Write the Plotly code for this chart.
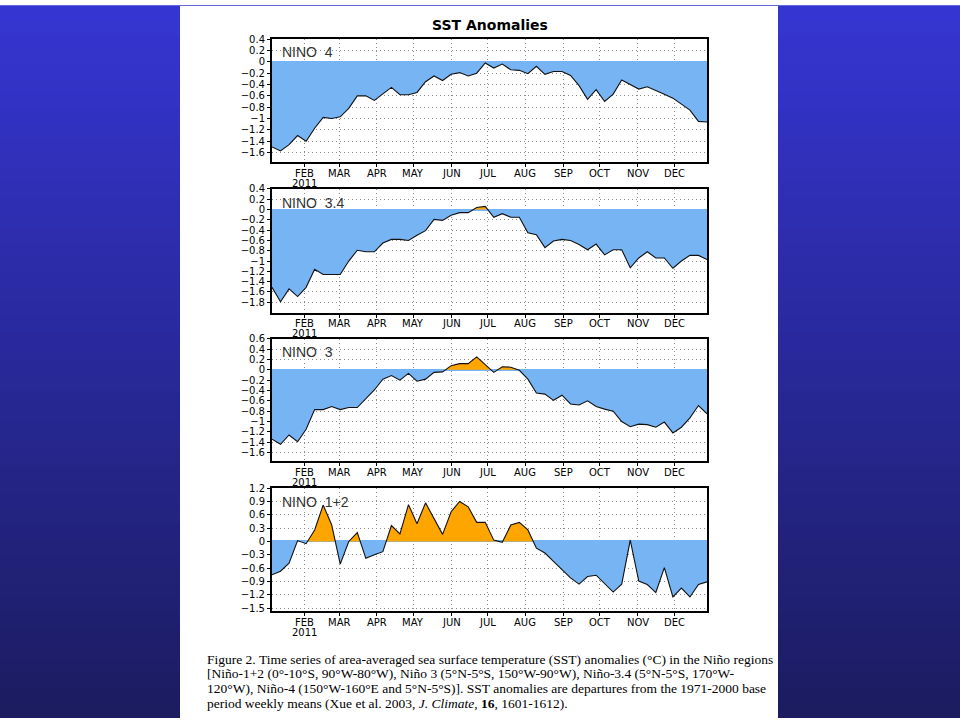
import numpy as np
import pandas as pd
import plotly.graph_objects as go

# ---------------- data ----------------
weeks = pd.date_range("2011-01-05", periods=52, freq="7D")

nino4 = [-1.50, -1.57, -1.46, -1.30, -1.40, -1.17, -0.98, -1.00, -0.97, -0.82,
         -0.60, -0.60, -0.68, -0.57, -0.45, -0.58, -0.58, -0.54, -0.35, -0.25,
         -0.33, -0.22, -0.19, -0.25, -0.20, -0.02, -0.11, -0.04, -0.14, -0.15,
         -0.21, -0.08, -0.22, -0.17, -0.17, -0.24, -0.42, -0.66, -0.49, -0.70,
         -0.57, -0.32, -0.40, -0.48, -0.44, -0.50, -0.57, -0.64, -0.75, -0.85,
         -1.05, -1.06]

nino34 = [-1.51, -1.79, -1.54, -1.69, -1.51, -1.16, -1.26, -1.26, -1.26, -1.00,
          -0.79, -0.82, -0.82, -0.65, -0.58, -0.58, -0.60, -0.50, -0.41, -0.19,
          -0.21, -0.11, -0.06, -0.06, 0.04, 0.06, -0.15, -0.08, -0.15, -0.15,
          -0.45, -0.49, -0.74, -0.61, -0.58, -0.60, -0.68, -0.78, -0.67, -0.88,
          -0.78, -0.78, -1.13, -0.94, -0.82, -0.94, -0.94, -1.14, -1.00, -0.89,
          -0.89, -0.97]

nino3 = [-1.34, -1.44, -1.26, -1.39, -1.15, -0.77, -0.77, -0.71, -0.77, -0.73,
         -0.73, -0.55, -0.39, -0.18, -0.11, -0.20, -0.07, -0.22, -0.18, -0.05,
         -0.04, 0.08, 0.12, 0.12, 0.25, 0.10, -0.05, 0.06, 0.05, -0.01,
         -0.18, -0.45, -0.47, -0.59, -0.49, -0.66, -0.68, -0.60, -0.71, -0.76,
         -0.80, -1.00, -1.10, -1.05, -1.06, -1.11, -1.01, -1.22, -1.11, -0.93,
         -0.69, -0.85]

nino12 = [-0.75, -0.67, -0.49, 0.02, -0.05, 0.26, 0.82, 0.37, -0.51, 0.00,
          0.20, -0.38, -0.30, -0.23, 0.36, 0.17, 0.83, 0.40, 0.87, 0.50,
          0.16, 0.67, 0.90, 0.78, 0.43, 0.43, 0.03, -0.02, 0.37, 0.43,
          0.26, -0.15, -0.26, -0.45, -0.63, -0.82, -0.96, -0.79, -0.76, -0.94,
          -1.14, -0.96, 0.03, -0.89, -0.97, -1.15, -0.59, -1.25, -1.05, -1.25,
          -0.97, -0.91]

panel_names = ["NINO\u00a0\u00a04", "NINO\u00a0\u00a03.4", "NINO\u00a0\u00a03", "NINO\u00a0\u00a01+2"]
panel_series = [nino4, nino34, nino3, nino12]
panel_ticks = [
    [0.4, 0.2, 0, -0.2, -0.4, -0.6, -0.8, -1, -1.2, -1.4, -1.6],
    [0.4, 0.2, 0, -0.2, -0.4, -0.6, -0.8, -1, -1.2, -1.4, -1.6, -1.8],
    [0.6, 0.4, 0.2, 0, -0.2, -0.4, -0.6, -0.8, -1, -1.2, -1.4, -1.6],
    [1.2, 0.9, 0.6, 0.3, 0, -0.3, -0.6, -0.9, -1.2, -1.5],
]
panel_ranges = [[-1.77, 0.4], [-2.0, 0.4], [-1.77, 0.6], [-1.57, 1.2]]

month_ticks = pd.date_range("2011-02-01", periods=11, freq="MS")
month_labels = ["FEB", "MAR", "APR", "MAY", "JUN", "JUL", "AUG",
                "SEP", "OCT", "NOV", "DEC"]
year_label = "2011"

caption_lines = [
    "Figure 2. Time series of area-averaged sea surface temperature (SST) anomalies (°C) in the Niño regions",
    "[Niño-1+2 (0°-10°S, 90°W-80°W), Niño 3 (5°N-5°S, 150°W-90°W), Niño-3.4 (5°N-5°S, 170°W-",
    "120°W), Niño-4 (150°W-160°E and 5°N-5°S)]. SST anomalies are departures from the 1971-2000 base",
    "period weekly means (Xue et al. 2003, <i>J. Climate</i>, <b>16</b>, 1601-1612).",
]

# ---------------- layout geometry (pixels) ----------------
W, H = 960, 720
plot_x0, plot_x1 = 272, 707
panel_px = [(33.5, 158), (185, 310), (336.5, 460.5), (487.6, 612)]

BLUE = "#76B4F4"
ORANGE = "#FFA500"
GRID = "#8c8c8c"
TICKFONT = dict(family="DejaVu Sans, Liberation Sans", size=10, color="black")


def split_fill(dates, vals):
    t = dates.values.astype("datetime64[ms]").astype("int64").astype(float)
    v = np.asarray(vals, dtype=float)
    xs, ys = [t[0]], [v[0]]
    for i in range(1, len(v)):
        if v[i - 1] * v[i] < 0:
            tc = t[i - 1] + (t[i] - t[i - 1]) * (-v[i - 1]) / (v[i] - v[i - 1])
            xs.append(tc)
            ys.append(0.0)
        xs.append(t[i])
        ys.append(v[i])
    xs = pd.to_datetime(np.array(xs).astype("int64"), unit="ms")
    ys = np.array(ys)
    return xs, np.maximum(ys, 0), np.minimum(ys, 0)


fig = go.Figure()
layout = {}
annotations = []
for k in range(4):
    n = k + 1
    xa = "x" if n == 1 else f"x{n}"
    ya = "y" if n == 1 else f"y{n}"
    xs, pos, neg = split_fill(weeks, panel_series[k])
    fig.add_trace(go.Scatter(x=xs, y=neg, mode="lines", line=dict(width=0, color=BLUE),
                             fill="tozeroy", fillcolor=BLUE, xaxis=xa, yaxis=ya,
                             hoverinfo="skip", showlegend=False))
    fig.add_trace(go.Scatter(x=xs, y=pos, mode="lines", line=dict(width=0, color=ORANGE),
                             fill="tozeroy", fillcolor=ORANGE, xaxis=xa, yaxis=ya,
                             hoverinfo="skip", showlegend=False))
    fig.add_trace(go.Scatter(x=weeks, y=panel_series[k], mode="lines",
                             line=dict(width=1.1, color="#111111"),
                             xaxis=xa, yaxis=ya, showlegend=False))
    top, bot = panel_px[k]
    ticks = panel_ticks[k]
    layout["xaxis" if n == 1 else f"xaxis{n}"] = dict(
        domain=[plot_x0 / W, plot_x1 / W], anchor=ya,
        range=[weeks[0], weeks[-1]], tickvals=month_ticks, showticklabels=False,
        showgrid=True, gridcolor=GRID, griddash="1px,3px", gridwidth=1,
        showline=True, linecolor="black", linewidth=2, mirror=True,
        ticks="outside", ticklen=3, tickcolor="black",
        zeroline=False,
    )
    layout["yaxis" if n == 1 else f"yaxis{n}"] = dict(
        domain=[1 - bot / H, 1 - top / H], anchor=xa,
        range=panel_ranges[k], tickvals=ticks,
        ticktext=[f"{t:g}".replace("-", "\u2212") for t in ticks],
        showgrid=True, gridcolor=GRID, griddash="1px,3px", gridwidth=1,
        showline=True, linecolor="black", linewidth=2, mirror=True,
        ticks="outside", ticklen=3, tickcolor="black", tickfont=TICKFONT,
        zeroline=True, zerolinecolor=BLUE, zerolinewidth=1.5,
    )
    # month labels below each panel
    for m, lab in zip(month_ticks, month_labels):
        annotations.append(dict(text=lab, x=m, xref=xa, y=1 - (bot + 11) / H, yref="paper",
                                showarrow=False, xanchor="center", yanchor="middle",
                                font=TICKFONT))
    annotations.append(dict(text=year_label, x=month_ticks[0], xref=xa, y=1 - (bot + 21.5) / H,
                            yref="paper", showarrow=False, xanchor="center", yanchor="middle",
                            font=TICKFONT))

# background: blue gradient sides and white page
shapes = []
nstrip = 48
c0 = np.array([54, 54, 212])
c1 = np.array([28, 28, 96])
for s in range(nstrip):
    f = (s + 0.5) / nstrip
    c = (c0 * (1 - f) + c1 * f).astype(int)
    shapes.append(dict(type="rect", xref="paper", yref="paper", x0=0, x1=1,
                       y0=1 - (s + 1) / nstrip, y1=1 - s / nstrip + 0.001,
                       fillcolor=f"rgb({c[0]},{c[1]},{c[2]})", line=dict(width=0), layer="below"))
shapes.append(dict(type="rect", xref="paper", yref="paper", x0=180 / W, x1=778 / W,
                   y0=0, y1=1, fillcolor="white", line=dict(width=0), layer="below"))

annotations.append(dict(text="<b>SST Anomalies</b>", x=490 / W, y=1 - 19 / H, xref="paper", yref="paper",
                        showarrow=False, xanchor="center", yanchor="middle",
                        font=dict(family="DejaVu Sans, Liberation Sans", size=14, color="black")))
label_y = [47, 199, 350, 502]
for k in range(4):
    annotations.append(dict(text=panel_names[k], x=280 / W, y=1 - label_y[k] / H,
                            xref="paper", yref="paper", showarrow=False,
                            xanchor="left", yanchor="middle",
                            font=dict(family="Liberation Sans, Arial", size=14, color="#333333")))
cap_y = [661, 675.5, 690, 705]
for line, yy in zip(caption_lines, cap_y):
    annotations.append(dict(text=line, x=205 / W, y=1 - yy / H, xref="paper", yref="paper",
                            showarrow=False, xanchor="left", yanchor="middle",
                            font=dict(family="Liberation Serif, Times New Roman", size=13.5, color="black")))

fig.update_layout(width=W, height=H, margin=dict(l=0, r=0, t=0, b=0),
                  paper_bgcolor="white", plot_bgcolor="white",
                  shapes=shapes, annotations=annotations, **layout)

fig.write_html("out.html", config={"displayModeBar": False},
               post_script="document.body.style.margin='0';document.body.style.overflow='hidden';")
